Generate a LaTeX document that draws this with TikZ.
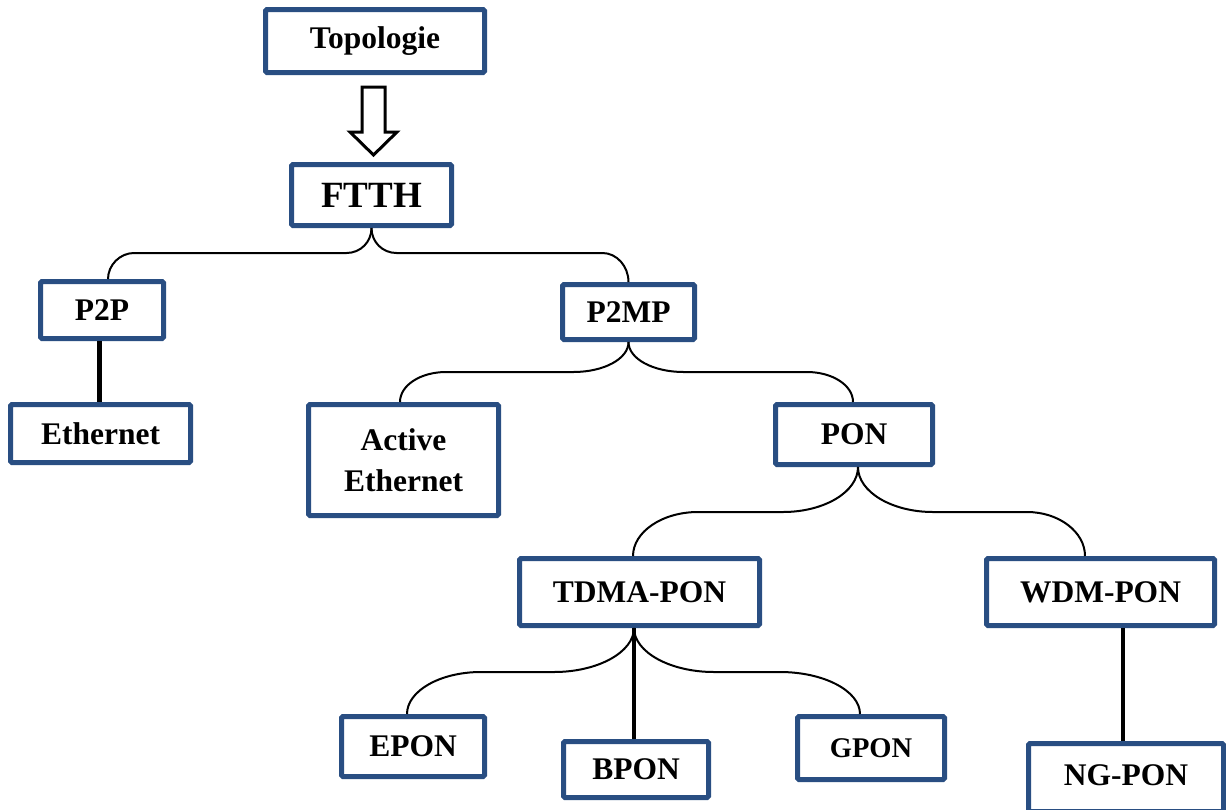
\documentclass[tikz,border=0pt]{standalone}
\usepackage{fontspec}
\setmainfont{Liberation Serif}
\usetikzlibrary{calc}
\definecolor{boxblue}{RGB}{41,78,130}
\begin{document}
\begin{tikzpicture}[x=1pt,y=-1pt,
  box/.style={draw=boxblue, line width=5pt, fill=white, rounded corners=1.5pt,
    inner sep=0pt, align=center, font=\fontsize{31.5}{41}\selectfont\bfseries},
  conn/.style={draw=black, line width=2pt},
  thickconn/.style={draw=black, line width=4pt},
  hollow/.style={draw=black, line width=3pt, fill=white, line join=miter}]
\useasboundingbox (0,0) rectangle (1226,809);
\clip (0,0) rectangle (1226,809);

% nodes
\node[box, minimum width=219pt, minimum height=63pt] (topo) at (375,41) {Topologie};
\node[box, minimum width=160pt, minimum height=61pt, font=\fontsize{37}{44}\selectfont\bfseries] (ftth) at (371.5,195) {FTTH};
\node[box, minimum width=123pt, minimum height=57pt] (p2p) at (102,310) {P2P};
\node[box, minimum width=180pt, minimum height=58pt] (eth) at (100.5,433.5) {Ethernet};
\node[box, minimum width=132pt, minimum height=55pt] (p2mp) at (628.5,312) {P2MP};
\node[box, minimum width=190pt, minimum height=111pt] (aeth) at (403.5,460) {Active\\Ethernet};
\node[box, minimum width=157pt, minimum height=60pt] (pon) at (854,434.5) {PON};
\node[box, minimum width=240pt, minimum height=67pt] (tdma) at (639.5,592) {TDMA-PON};
\node[box, minimum width=228pt, minimum height=67pt] (wdm) at (1100.5,592) {WDM-PON};
\node[box, minimum width=143pt, minimum height=60pt] (epon) at (413,746.5) {EPON};
\node[box, minimum width=145pt, minimum height=56pt] (bpon) at (636,769.5) {BPON};
\node[box, minimum width=147pt, minimum height=63pt, font=\fontsize{28.5}{34}\selectfont\bfseries] (gpon) at (871,748) {GPON};
\node[box, minimum width=195pt, minimum height=68pt] (ngpon) at (1126,777.5) {\raisebox{5pt}{NG-PON}};

% attach points
\coordinate (p2p-t) at ([xshift=6pt]p2p.north);
\coordinate (aeth-t) at ([xshift=-3.5pt]aeth.north);
\coordinate (pon-t) at ([xshift=-1pt]pon.north);
\coordinate (pon-b) at ([xshift=4pt]pon.south);
\coordinate (tdma-t) at ([xshift=-6.5pt]tdma.north);
\coordinate (tdma-b) at ([xshift=-5.5pt]tdma.south);
\coordinate (wdm-t) at ([xshift=-15.5pt]wdm.north);
\coordinate (epon-t) at ([xshift=-6pt]epon.north);
\coordinate (gpon-t) at ([xshift=-11pt]gpon.north);

% hollow arrow Topologie -> FTTH
\draw[hollow] ($(topo.south)+(-13,12)$) -- ++(23,0) -- ++(0,45) -- ++(12,0)
  -- ++(-23.5,23) -- ++(-23.5,-23) -- ++(12,0) -- cycle;

% brace FTTH
\draw[conn] (ftth.south) .. controls +(0,14) and +(14,0) .. ($(ftth.south)+(-25,25)$)
  -- ($(p2p-t)+(26,-26)$) .. controls +(-14,0) and +(0,-14) .. (p2p-t);
\draw[conn] (ftth.south) .. controls +(0,14) and +(-14,0) .. ($(ftth.south)+(25,25)$)
  -- ($(p2mp.north)+(-26,-29)$) .. controls +(14,0) and +(0,-16) .. (p2mp.north);

% P2P -> Ethernet
\draw[line width=5pt] ([xshift=-3pt]p2p.south) -- ([xshift=-1.5pt]eth.north);

% brace P2MP
\draw[conn] (p2mp.south) .. controls +(0,17) and +(30,0) .. ($(p2mp.south)+(-55,30)$)
  -- ($(aeth-t)+(46,-30)$) .. controls +(-25,0) and +(0,-17) .. (aeth-t);
\draw[conn] (p2mp.south) .. controls +(0,17) and +(-30,0) .. ($(p2mp.south)+(55,30)$)
  -- ($(pon-t)+(-46,-30)$) .. controls +(25,0) and +(0,-17) .. (pon-t);

% brace PON
\draw[conn] (pon-b) .. controls +(0,25) and +(41,0) .. ($(pon-b)+(-75,45)$)
  -- ($(tdma-t)+(65,-44)$) .. controls +(-36,0) and +(0,-24) .. (tdma-t);
\draw[conn] (pon-b) .. controls +(0,25) and +(-41,0) .. ($(pon-b)+(75,45)$)
  -- ($(wdm-t)+(-58,-44)$) .. controls +(32,0) and +(0,-24) .. (wdm-t);

% brace TDMA-PON
\draw[conn] (tdma-b) .. controls +(0,24) and +(44,0) .. ($(tdma-b)+(-80,44)$)
  -- ($(epon-t)+(74,-42)$) .. controls +(-41,0) and +(0,-23) .. (epon-t);
\draw[conn] (tdma-b) .. controls +(0,24) and +(-44,0) .. ($(tdma-b)+(80,44)$)
  -- ($(gpon-t)+(-80,-42)$) .. controls +(44,0) and +(0,-23) .. (gpon-t);
\draw[thickconn, line width=3.5pt] (tdma-b) -- ([xshift=-2pt]bpon.north);

% WDM-PON -> NG-PON
\draw[thickconn] ([xshift=22.5pt]wdm.south) -- ([xshift=-3pt]ngpon.north);
\end{tikzpicture}
\end{document}
